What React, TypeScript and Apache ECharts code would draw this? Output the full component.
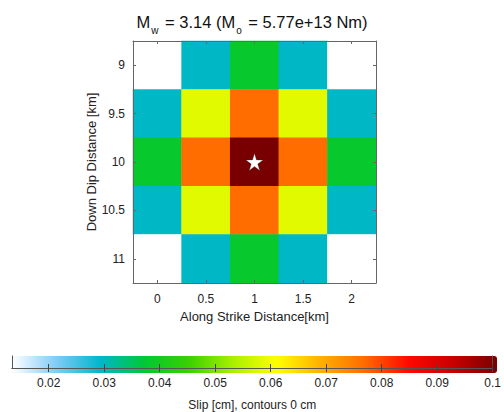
import React, { useEffect, useRef } from "react";
import * as echarts from "echarts";

const xCategories = ["0", "0.5", "1", "1.5", "2"];
const yCategories = ["9", "9.5", "10", "10.5", "11"];
// slip values [cm], rows from top (9 km) to bottom (11 km)
const slipRows: number[][] = [
  [0.0134, 0.0295, 0.038, 0.0295, 0.0134],
  [0.0295, 0.058, 0.076, 0.058, 0.0295],
  [0.038, 0.076, 0.1, 0.076, 0.038],
  [0.0295, 0.058, 0.076, 0.058, 0.0295],
  [0.0134, 0.0295, 0.038, 0.0295, 0.0134],
];
const hypocenter = ["1", "10"];
const colorbarMin = 0.0134;
const colorbarMax = 0.1;
const colorbarTicks = [0.02, 0.03, 0.04, 0.05, 0.06, 0.07, 0.08, 0.09, 0.1];
const colormap = [
  "#ffffff",
  "#80ccf6",
  "#00b6cc",
  "#00c834",
  "#38d000",
  "#a8f000",
  "#ffff00",
  "#ffb000",
  "#ff6a00",
  "#ff0800",
  "#c80000",
  "#780000",
];

const FONT = "'Liberation Sans', Arial, Helvetica, sans-serif";
const STAR =
  "path://M50,0 L61.2,34.5 L97.6,34.5 L68.2,55.9 L79.4,90.5 L50,69.1 L20.6,90.5 L31.8,55.9 L2.4,34.5 L38.8,34.5 Z";

export default function App() {
  const ref = useRef<HTMLDivElement>(null);
  useEffect(() => {
    if (!ref.current) return;
    const chart = echarts.init(ref.current, undefined, { renderer: "svg" });
    const heatData: [number, number, number][] = [];
    slipRows.forEach((row, r) =>
      row.forEach((v, c) => heatData.push([c, r, v]))
    );
    const catAxisCommon = {
      type: "category" as const,
      z: 10,
      axisLine: { show: true, lineStyle: { color: "#666", width: 1 } },
      axisTick: {
        show: true,
        inside: true,
        alignWithLabel: true,
        length: 3,
        lineStyle: { color: "#666" },
      },
      splitLine: { show: false },
    };
    chart.setOption({
      animation: false,
      backgroundColor: "#ffffff",
      title: {
        text: "{a|M}{s|w}{a| = 3.14 (M}{s|o}{a| = 5.77e+13 Nm)}",
        left: "center",
        top: 4,
        textStyle: {
          rich: {
            a: { fontSize: 16.5, fontWeight: "normal", fontFamily: FONT, color: "#111", lineHeight: 26, verticalAlign: "bottom", padding: [0, 0, 5, 0] },
            s: { fontSize: 10, fontWeight: "normal", fontFamily: FONT, color: "#111", lineHeight: 26, verticalAlign: "bottom", padding: [0, 2, 0, 1] },
          },
        },
      },
      grid: [
        { left: 133, top: 41, width: 243, height: 242, show: false },
        { left: 12, top: 356, width: 485, height: 17, show: false, z: 10 },
      ],
      xAxis: [
        {
          ...catAxisCommon,
          gridIndex: 0,
          data: xCategories,
          position: "bottom",
          axisLabel: { fontFamily: FONT, fontSize: 12, color: "#222", margin: 10 },
          name: "Along Strike Distance[km]",
          nameLocation: "middle",
          nameGap: 27,
          nameTextStyle: { fontFamily: FONT, fontSize: 13, color: "#222" },
        },
        {
          ...catAxisCommon,
          gridIndex: 0,
          data: xCategories,
          position: "top",
          axisLabel: { show: false },
        },
        {
          type: "value",
          gridIndex: 1,
          min: colorbarMin,
          max: colorbarMax,
          position: "bottom",
          z: 10,
          axisLine: { show: true, lineStyle: { color: "#555" } },
          axisTick: { show: true, inside: true, length: 4, customValues: colorbarTicks, lineStyle: { color: "#444" } },
          axisLabel: { show: true, customValues: colorbarTicks, fontFamily: FONT, fontSize: 12, color: "#222", margin: 9 },
          splitLine: { show: false },
          name: "Slip [cm], contours 0 cm",
          nameLocation: "middle",
          nameGap: 31,
          nameTextStyle: { fontFamily: FONT, fontSize: 12, color: "#222" },
        },
        {
          type: "value",
          gridIndex: 1,
          min: colorbarMin,
          max: colorbarMax,
          position: "top",
          z: 10,
          axisLine: { show: true, lineStyle: { color: "#555" } },
          axisTick: { show: true, inside: true, length: 4, customValues: colorbarTicks, lineStyle: { color: "#444" } },
          axisLabel: { show: false },
          splitLine: { show: false },
        },
      ],
      yAxis: [
        {
          ...catAxisCommon,
          gridIndex: 0,
          data: yCategories,
          inverse: true,
          position: "left",
          axisLabel: { fontFamily: FONT, fontSize: 12, color: "#222", margin: 8 },
          name: "Down Dip Distance [km]",
          nameLocation: "middle",
          nameGap: 33,
          nameTextStyle: { fontFamily: FONT, fontSize: 13, color: "#222" },
        },
        {
          ...catAxisCommon,
          gridIndex: 0,
          data: yCategories,
          inverse: true,
          position: "right",
          axisLabel: { show: false },
        },
        {
          type: "value",
          gridIndex: 1,
          min: 0,
          max: 1,
          z: 10,
          axisLine: { show: true, lineStyle: { color: "#555" } },
          axisTick: { show: false },
          axisLabel: { show: false },
          splitLine: { show: false },
        },
        {
          type: "value",
          gridIndex: 1,
          min: 0,
          max: 1,
          position: "right",
          z: 10,
          axisLine: { show: true, lineStyle: { color: "#555" } },
          axisTick: { show: false },
          axisLabel: { show: false },
          splitLine: { show: false },
        },
      ],
      visualMap: {
        type: "continuous",
        min: colorbarMin,
        max: colorbarMax,
        orient: "horizontal",
        left: 12,
        top: 356,
        itemWidth: 17,
        itemHeight: 485,
        padding: 0,
        calculable: false,
        hoverLink: false,
        text: null,
        showLabel: false,
        seriesIndex: 0,
        dimension: 2,
        inRange: { color: colormap },
      },
      series: [
        {
          type: "heatmap",
          xAxisIndex: 0,
          yAxisIndex: 0,
          data: heatData,
          itemStyle: { borderWidth: 0 },
          emphasis: { disabled: true },
        },
        {
          type: "scatter",
          xAxisIndex: 0,
          yAxisIndex: 0,
          data: [hypocenter],
          symbol: STAR,
          symbolSize: 17,
          itemStyle: { color: "#ffffff", borderColor: "#333", borderWidth: 0.3, opacity: 1 },
          z: 5,
        },
      ],
    });
    return () => chart.dispose();
  }, []);
  return <div ref={ref} style={{ width: 504, height: 412, position: "absolute", left: 0, top: 0 }} />;
}
